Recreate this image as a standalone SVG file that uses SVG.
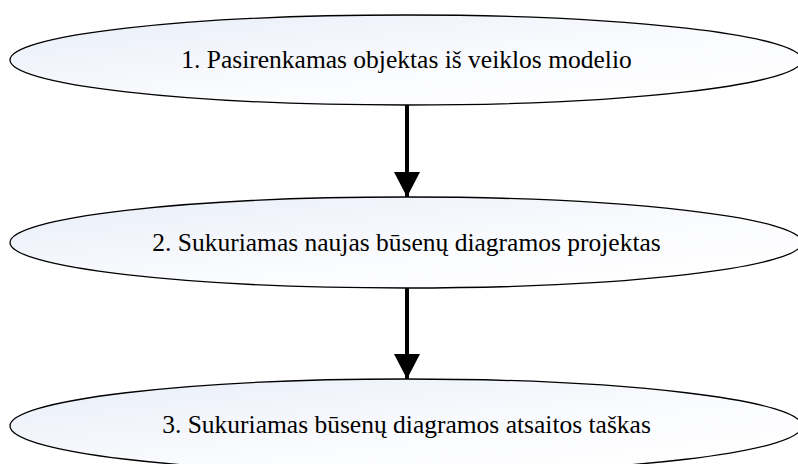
<svg xmlns="http://www.w3.org/2000/svg" width="798" height="464" viewBox="0 0 798 464">
  <defs>
    <linearGradient id="nodeFill" x1="0" y1="0" x2="1" y2="1">
      <stop offset="0" stop-color="#e8edf8"/>
      <stop offset="0.6" stop-color="#fbfcfe"/>
      <stop offset="1" stop-color="#ffffff"/>
    </linearGradient>
    <marker id="arrowHead" markerUnits="userSpaceOnUse" markerWidth="26" markerHeight="26" viewBox="0 0 26 26" refX="25" refY="13" orient="auto">
      <path d="M0,0 L25,13 L0,26 Z" fill="#000"/>
    </marker>
  </defs>
  <style>
    .node ellipse { fill: url(#nodeFill); stroke: #000; stroke-width: 1.3; }
    .node text { font-size: 25.5px; fill: #000; text-anchor: middle; }
    .edge { stroke: #000; stroke-width: 4; fill: none; marker-end: url(#arrowHead); }
  </style>
  <rect width="798" height="464" fill="#fff"/>

  <g id="connectors">
    <line class="edge" x1="407" y1="105" x2="407" y2="197"/>
    <line class="edge" x1="407" y1="288" x2="407" y2="379"/>
  </g>

  <g id="step1" class="node">
    <ellipse cx="406" cy="60" rx="396" ry="45"/>
    <text x="406.5" y="68" font-family="'Liberation Serif', 'Times New Roman', Times, serif">1. Pasirenkamas objektas iš veiklos modelio</text>
  </g>
  <g id="step2" class="node">
    <ellipse cx="406" cy="242.5" rx="396" ry="45.5"/>
    <text x="406.5" y="251" font-family="'Liberation Serif', 'Times New Roman', Times, serif">2. Sukuriamas naujas būsenų diagramos projektas</text>
  </g>
  <g id="step3" class="node">
    <ellipse cx="406" cy="426" rx="396" ry="47"/>
    <text x="406.5" y="433" font-family="'Liberation Serif', 'Times New Roman', Times, serif">3. Sukuriamas būsenų diagramos atsaitos taškas</text>
  </g>
</svg>
